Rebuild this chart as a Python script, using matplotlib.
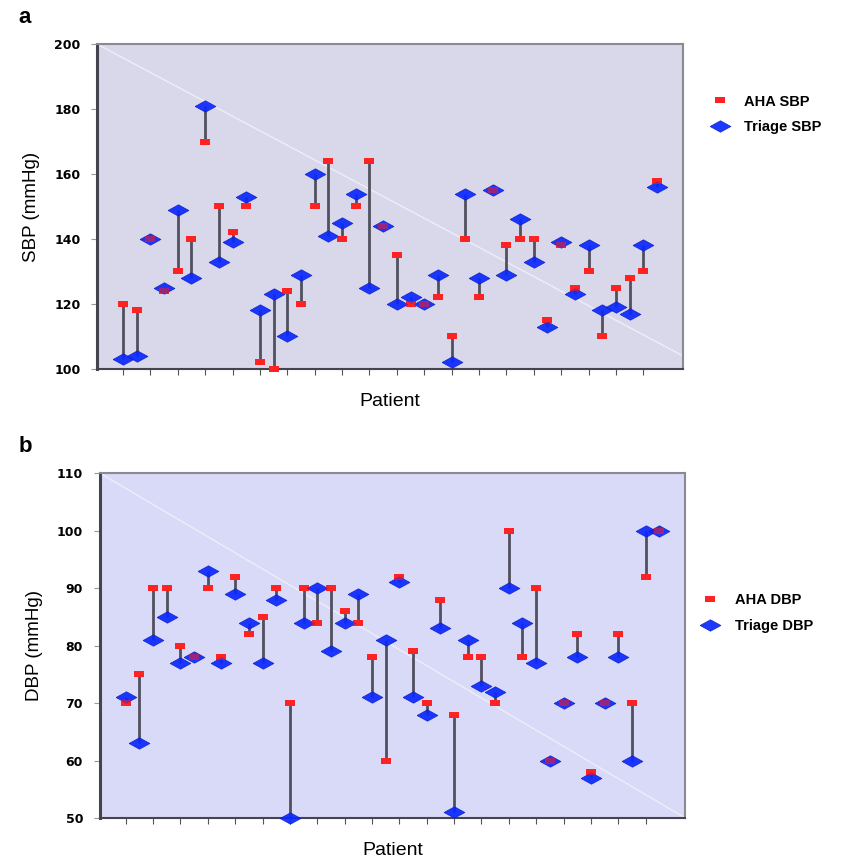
import numpy as np
import matplotlib
matplotlib.use("Agg")
import matplotlib.pyplot as plt

# ---- data ----
patients = list(range(1, 41))
aha_sbp = [120, 118, 140, 124, 130, 140, 170, 150, 142, 150,
           102, 100, 124, 120, 150, 164, 140, 150, 164, 144,
           135, 120, 120, 122, 110, 140, 122, 155, 138, 140,
           140, 115, 138, 125, 130, 110, 125, 128, 130, 158]
triage_sbp = [103, 104, 140, 125, 149, 128, 181, 133, 139, 153,
              118, 123, 110, 129, 160, 141, 145, 154, 125, 144,
              120, 122, 120, 129, 102, 154, 128, 155, 129, 146,
              133, 113, 139, 123, 138, 118, 119, 117, 138, 156]
aha_dbp = [70, 75, 90, 90, 80, 78, 90, 78, 92, 82,
           85, 90, 70, 90, 84, 90, 86, 84, 78, 60,
           92, 79, 70, 88, 68, 78, 78, 70, 100, 78,
           90, 60, 70, 82, 58, 70, 82, 70, 92, 100]
triage_dbp = [71, 63, 81, 85, 77, 78, 93, 77, 89, 84,
              77, 88, 50, 84, 90, 79, 84, 89, 71, 81,
              91, 71, 68, 83, 51, 81, 73, 72, 90, 84,
              77, 60, 70, 78, 57, 70, 78, 60, 100, 100]
sbp_ticks = [100, 120, 140, 160, 180, 200]
dbp_ticks = [50, 60, 70, 80, 90, 100, 110]

RED = "#ff2222"
BLUE = "#0a28ff"
rect = [(-1, -0.5), (1, -0.5), (1, 0.5), (-1, 0.5), (-1, -0.5)]
diam = [(-1, 0), (0, 0.55), (1, 0), (0, -0.55), (-1, 0)]

fig = plt.figure(figsize=(8.45, 8.64), dpi=100)

def panel(rect_ax, aha, tri, ylim, ticks, bg, ylabel, names, diag_end, leg_anchor):
    ax = fig.add_axes(rect_ax)
    ax.set_facecolor(bg)
    x = np.array(patients)
    ax.plot([0, 1], [1, diag_end], transform=ax.transAxes, color="#eeeefa", lw=1.0, zorder=1)
    ax.vlines(x, aha, tri, colors="#50505e", lw=2.0, zorder=2)
    ax.plot(x, aha, linestyle="none", marker=rect, markersize=7.5, color=RED,
            markeredgewidth=0, label=names[0], zorder=3, clip_on=False)
    ax.plot(x, tri, linestyle="none", marker=diam, markersize=15, color=BLUE,
            markeredgecolor="#1020c0", markeredgewidth=0.5, alpha=0.92,
            label=names[1], zorder=4, clip_on=False)
    # translucent red overlay so coinciding readings show through the diamond
    ax.plot(x, aha, linestyle="none", marker=rect, markersize=7.5, color=RED,
            markeredgewidth=0, alpha=0.55, zorder=5, clip_on=False)
    ax.set_xlim(-0.9, 41.9)
    ax.set_ylim(*ylim)
    ax.set_yticks(ticks)
    ax.set_yticklabels([str(t) for t in ticks], fontsize=9, fontweight="bold",
                       family="DejaVu Sans")
    ax.set_xticks(x[::2])
    ax.set_xticklabels([])
    ax.tick_params(axis="y", length=4, color="#999999", pad=8)
    ax.tick_params(axis="x", length=4, color="#555555", direction="out")
    for s in ["top", "right", "bottom"]:
        ax.spines[s].set_color("#8a8a90")
        ax.spines[s].set_linewidth(1.5)
    ax.spines["bottom"].set_color("#444450")
    ax.spines["left"].set_color("#444450")
    ax.spines["left"].set_linewidth(2.2)
    ax.set_ylabel(ylabel, fontsize=13.5, family="Liberation Sans", labelpad=10)
    ax.set_xlabel("Patient", fontsize=14, family="Liberation Sans", labelpad=10)
    ax.legend(loc="upper left", bbox_to_anchor=leg_anchor, frameon=False,
              prop={"family": "Liberation Sans", "size": 10.5, "weight": "bold"},
              handletextpad=0.9, labelspacing=0.8, handlelength=1.6)
    return ax

axa = panel([0.1148, 0.573, 0.6935, 0.376], aha_sbp, triage_sbp, (100, 200), sbp_ticks,
            "#d8d8ea", "SBP (mmHg)", ["AHA SBP", "Triage SBP"], 0.04, (1.02, 0.885))
axb = panel([0.118, 0.0532, 0.693, 0.3993], aha_dbp, triage_dbp, (50, 110), dbp_ticks,
            "#d9d9f8", "DBP (mmHg)", ["AHA DBP", "Triage DBP"], 0.0, (1.0, 0.69))

fig.text(0.022, 0.973, "a", fontsize=16, fontweight="bold", family="Liberation Sans")
fig.text(0.022, 0.477, "b", fontsize=16, fontweight="bold", family="Liberation Sans")

fig.savefig("out.png", dpi=100)
